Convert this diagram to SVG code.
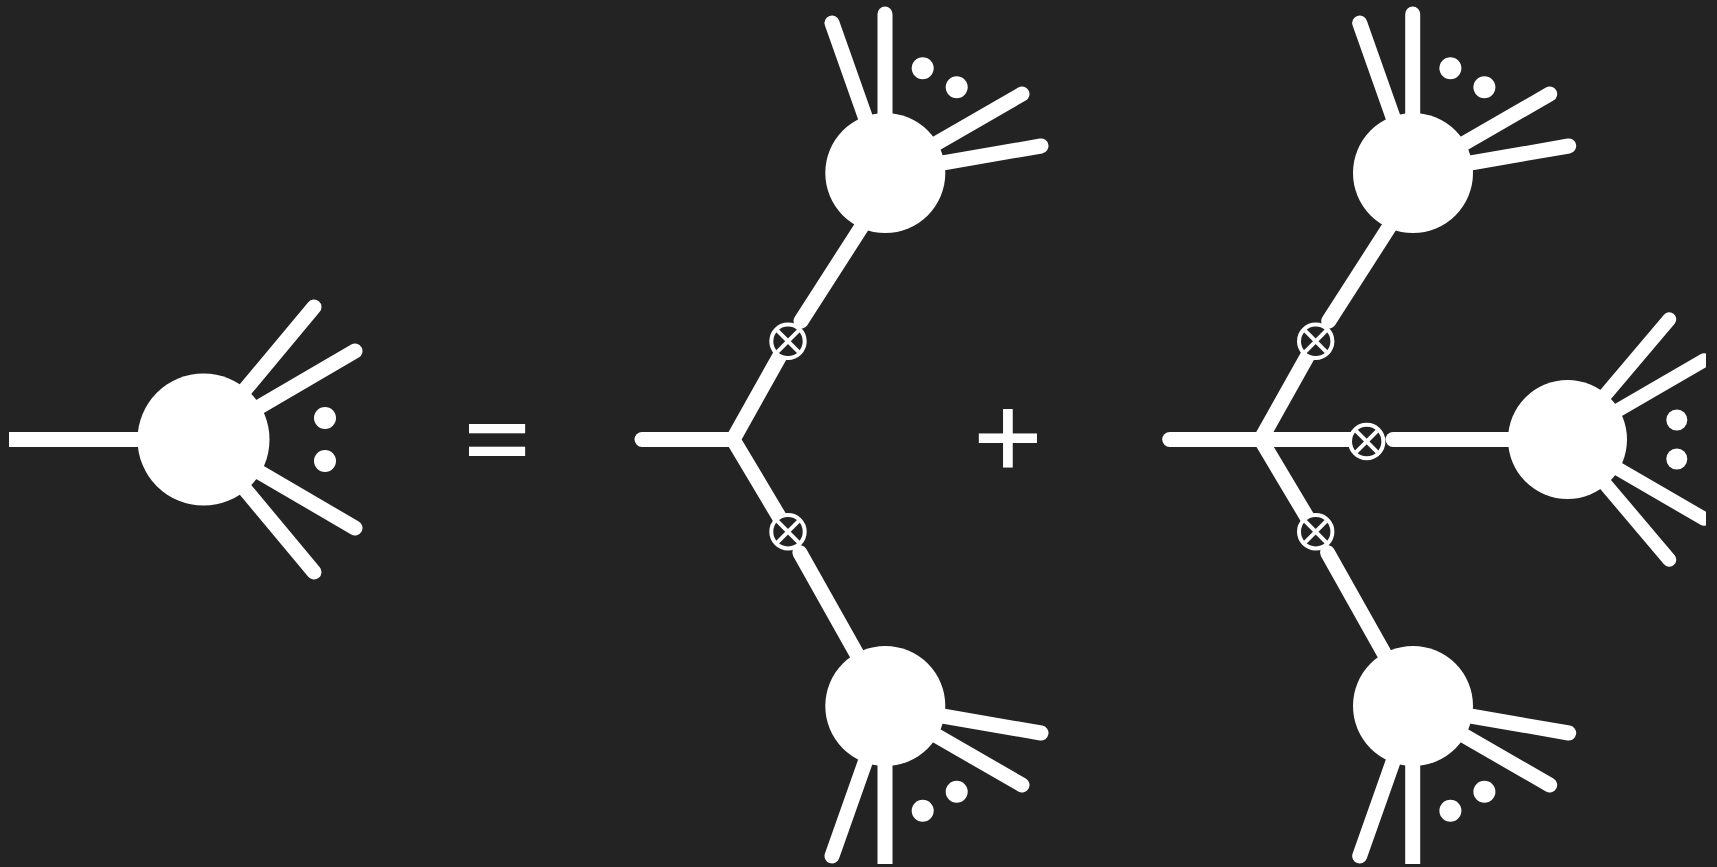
<svg xmlns="http://www.w3.org/2000/svg" width="1717" height="867" viewBox="0 0 1717 867">
<defs>
<style>
.bg{fill:#232323}
.w{fill:none;stroke:#fff;stroke-width:15;stroke-linecap:round;stroke-linejoin:miter}
.wr{fill:none;stroke:#fff;stroke-width:14;stroke-linecap:round}
.blob{fill:#fff}
.dot{fill:#fff}
.ring{fill:#232323;stroke:#fff;stroke-width:4}
.x{stroke:#fff;stroke-width:4;stroke-linecap:butt}
.eq{fill:#fff;font-family:"DejaVu Sans",sans-serif;font-size:112px;text-anchor:middle}
.plus{fill:#fff;stroke:#fff;stroke-width:1.2;stroke-linejoin:miter;font-family:"Liberation Sans",Arial,sans-serif;font-size:117px;text-anchor:middle}
</style>
<clipPath id="frame"><rect x="9" y="-20" width="1697" height="884"/></clipPath>
<g id="otimes">
<circle class="ring" r="16.7"/>
<line class="x" x1="-10.6" y1="-10.6" x2="10.6" y2="10.6"/>
<line class="x" x1="-10.6" y1="10.6" x2="10.6" y2="-10.6"/>
</g>
</defs>
<rect class="bg" x="0" y="0" width="1717" height="867"/>
<g clip-path="url(#frame)">
<g id="connectors">
<line class="w" x1="0" y1="439.5" x2="203.5" y2="439.5"/>
<line class="w" x1="642" y1="439.5" x2="733" y2="439.5"/>
<polyline class="w" points="788,341.3 733,439.5 788,531.7"/>
<line class="w" x1="801" y1="321.1" x2="882" y2="195"/>
<line class="w" x1="799.8" y1="552.6" x2="877" y2="690"/>
<line class="w" x1="1169.7" y1="439.5" x2="1366.7" y2="439.5"/>
<polyline class="w" points="1315.7,341.3 1260.7,439.5 1315.7,531.7"/>
<line class="w" x1="1328.7" y1="321.1" x2="1409.7" y2="195"/>
<line class="w" x1="1327.5" y1="552.6" x2="1404.7" y2="690"/>
<line class="w" x1="1393" y1="439.5" x2="1567.5" y2="439.5"/>
</g>
<g id="blob-left">
<line class="w" x1="203.5" y1="439.5" x2="314" y2="307"/>
<line class="w" x1="203.5" y1="439.5" x2="355" y2="351"/>
<line class="w" x1="203.5" y1="439.5" x2="355" y2="528"/>
<line class="w" x1="203.5" y1="439.5" x2="314" y2="572"/>
<circle class="blob" cx="203.5" cy="439.5" r="66"/>
<circle class="dot" cx="325" cy="418" r="11"/>
<circle class="dot" cx="325" cy="461" r="11"/>
</g>
<g id="blob-mid-top">
<line class="w" x1="885" y1="173" x2="885" y2="14"/>
<line class="w" x1="885" y1="173" x2="832" y2="23"/>
<line class="w" x1="885" y1="173" x2="1022" y2="94"/>
<line class="w" x1="885" y1="173" x2="1041" y2="146"/>
<circle class="blob" cx="885.3" cy="173" r="60"/>
<circle class="dot" cx="922.7" cy="68.3" r="11"/>
<circle class="dot" cx="956.7" cy="87.3" r="11"/>
</g>
<g id="blob-mid-bottom">
<line class="w" x1="885" y1="706" x2="885" y2="865"/>
<line class="w" x1="885" y1="706" x2="832" y2="856"/>
<line class="w" x1="885" y1="706" x2="1022" y2="785"/>
<line class="w" x1="885" y1="706" x2="1041" y2="733"/>
<circle class="blob" cx="885.3" cy="706" r="60"/>
<circle class="dot" cx="922.7" cy="810.7" r="11"/>
<circle class="dot" cx="956.7" cy="791.7" r="11"/>
</g>
<g id="blob-right-top">
<line class="w" x1="1412.7" y1="173" x2="1412.7" y2="14"/>
<line class="w" x1="1412.7" y1="173" x2="1359.7" y2="23"/>
<line class="w" x1="1412.7" y1="173" x2="1549.7" y2="94"/>
<line class="w" x1="1412.7" y1="173" x2="1568.7" y2="146"/>
<circle class="blob" cx="1413" cy="173" r="60"/>
<circle class="dot" cx="1450.4" cy="68.3" r="11"/>
<circle class="dot" cx="1484.4" cy="87.3" r="11"/>
</g>
<g id="blob-right-bottom">
<line class="w" x1="1412.7" y1="706" x2="1412.7" y2="865"/>
<line class="w" x1="1412.7" y1="706" x2="1359.7" y2="856"/>
<line class="w" x1="1412.7" y1="706" x2="1549.7" y2="785"/>
<line class="w" x1="1412.7" y1="706" x2="1568.7" y2="733"/>
<circle class="blob" cx="1413" cy="706" r="60"/>
<circle class="dot" cx="1450.4" cy="810.7" r="11"/>
<circle class="dot" cx="1484.4" cy="791.7" r="11"/>
</g>
<g id="blob-right-mid">
<line class="wr" x1="1567.5" y1="439.5" x2="1669.3" y2="319.3"/>
<line class="wr" x1="1567.5" y1="439.5" x2="1704" y2="360.3"/>
<line class="wr" x1="1567.5" y1="439.5" x2="1704" y2="518.7"/>
<line class="wr" x1="1567.5" y1="439.5" x2="1669.3" y2="559.7"/>
<circle class="blob" cx="1567.5" cy="439.5" r="59.5"/>
<circle class="dot" cx="1676.8" cy="420" r="10.5"/>
<circle class="dot" cx="1676.8" cy="459" r="10.5"/>
</g>
<g id="otimes-mid-top"><use href="#otimes" x="788" y="341.3"/></g>
<g id="otimes-mid-bottom"><use href="#otimes" x="788" y="531.7"/></g>
<g id="otimes-right-top"><use href="#otimes" x="1315.7" y="341.3"/></g>
<g id="otimes-right-mid"><use href="#otimes" x="1366.7" y="441.5"/></g>
<g id="otimes-right-bottom"><use href="#otimes" x="1315.7" y="531.7"/></g>
</g>
<g id="operators">
<text class="eq" transform="translate(497,475) scale(0.8,1)" x="0" y="0">=</text>
<text class="plus" x="1008" y="477">+</text>
</g>
</svg>
